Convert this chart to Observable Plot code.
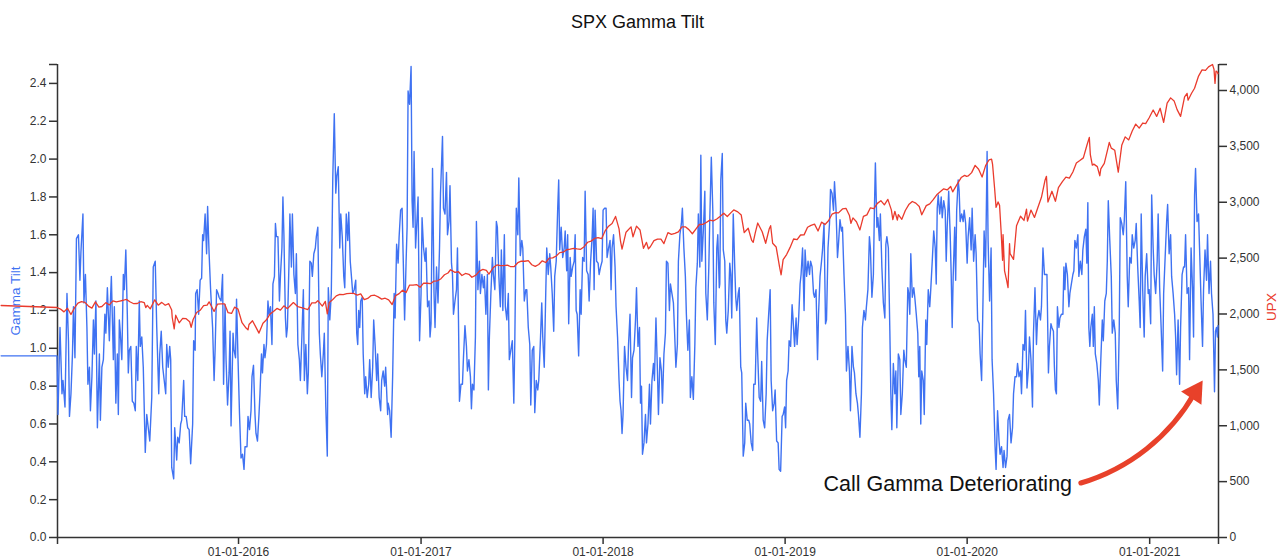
<!DOCTYPE html>
<html><head><meta charset="utf-8">
<script src="https://cdn.jsdelivr.net/npm/d3@7"></script>
<script src="https://cdn.jsdelivr.net/npm/@observablehq/plot@0.6"></script>
<style>
body{margin:0;background:#fff;font-family:"Liberation Sans",Arial,sans-serif;}
#title{height:44px;line-height:44px;margin-left:57px;width:1161px;text-align:center;font-size:18px;color:#111;}
#chart svg{overflow:visible;}
</style></head><body>
<div id="title"></div>
<div id="chart"></div>
<script>
const title = "SPX Gamma Tilt";
const leftLabel = "Gamma Tilt";
const rightLabel = "UPX";
const xStart = "2015-01-03", xEnd = "2021-05-19";
const yearTicks = ["2016-01-01","2017-01-01","2018-01-01","2019-01-01","2020-01-01","2021-01-01"];
const tiltTicks = [0,0.2,0.4,0.6,0.8,1.0,1.2,1.4,1.6,1.8,2.0,2.2,2.4];
const tiltMax = 2.5;
const spxTicks = [0,500,1000,1500,2000,2500,3000,3500,4000];
const spxMax = 4232.6;
const tiltBase = "2015-01-01"; // day offsets below count from this date
const tilt = [[-111,0.96],[1,0.96],[3,0.65],[7,1.11],[11,0.76],[13,0.83],[17,0.69],[21,1.29],[24,1.04],[26,0.64],[29,0.76],[32,0.97],[34,1.22],[37,0.95],[40,1.58],[44,1.60],[47,1.36],[49,1.51],[53,1.71],[55,1.24],[58,1.39],[61,1.11],[63,0.81],[66,0.90],[68,0.67],[71,0.85],[74,1.15],[76,0.97],[79,1.25],[82,0.58],[86,0.97],[88,0.62],[91,0.90],[94,0.94],[97,1.18],[99,1.08],[102,1.32],[106,1.04],[108,1.24],[110,1.38],[114,0.94],[116,1.22],[119,0.71],[122,0.97],[124,0.65],[126,1.15],[128,1.08],[131,0.94],[134,1.39],[136,1.31],[139,1.52],[142,1.18],[144,0.87],[146,0.99],[149,1.01],[152,0.72],[155,0.71],[158,0.67],[160,1.01],[163,0.83],[166,1.25],[168,1.01],[171,1.06],[174,0.90],[178,0.45],[181,0.65],[184,0.58],[187,0.51],[191,0.74],[194,1.43],[198,1.46],[201,1.11],[205,0.76],[207,0.97],[210,1.09],[213,0.90],[216,0.83],[219,0.76],[221,1.02],[224,0.90],[227,1.01],[229,0.94],[231,0.37],[235,0.31],[237,0.58],[241,0.41],[243,0.53],[246,0.50],[249,0.60],[251,0.62],[255,0.83],[257,0.64],[260,0.64],[263,0.58],[266,0.57],[269,0.39],[273,0.60],[275,1.04],[278,0.99],[279,1.29],[282,1.31],[285,1.18],[288,1.36],[291,1.37],[293,1.60],[295,1.57],[298,1.71],[301,1.50],[303,1.75],[306,1.50],[309,1.31],[313,1.11],[316,0.83],[318,0.99],[321,1.31],[324,1.29],[326,1.27],[330,1.25],
[333,1.39],[335,0.81],[338,1.23],[340,0.94],[343,0.70],[346,0.87],[348,1.09],[350,0.59],[354,1.08],[356,0.99],[359,0.95],[361,1.26],[364,0.94],[367,0.65],[370,0.42],[373,0.44],[376,0.36],[378,0.48],[382,0.48],[384,0.64],[387,0.57],[390,0.67],[392,0.85],[395,0.91],[398,0.65],[400,0.55],[403,0.51],[406,0.65],[408,0.76],[411,0.97],[413,0.87],[416,1.02],[418,0.95],[421,1.02],[424,1.25],[426,1.18],[429,1.22],[432,1.02],[434,1.34],[437,1.38],[439,1.66],[441,1.59],[444,1.59],[447,1.25],[449,1.38],[452,1.53],[454,1.80],[456,1.60],[459,1.16],[461,1.06],[463,1.11],[466,1.43],[468,1.71],[471,1.43],[473,1.71],[476,1.39],[479,1.29],[481,1.50],[484,1.02],[487,0.94],[489,0.83],[492,1.06],[495,1.31],[497,0.83],[500,1.02],[503,0.76],[505,0.87],[508,1.46],[511,1.45],[513,1.38],[516,1.50],[519,1.53],[521,1.59],[524,1.64],[527,1.08],[529,0.97],[532,0.85],[535,0.97],[537,1.08],[540,0.69],[543,0.43],[545,1.32],[548,1.15],[551,1.29],[554,1.90],[557,2.24],[560,1.82],[562,1.91],[565,1.96],[568,1.53],[570,1.71],[573,1.59],[576,1.38],[578,1.32],[581,1.71],[584,1.57],[586,1.72],[589,1.46],[592,1.36],[594,1.29],[597,1.31],[600,1.36],[602,1.08],[604,1.02],[606,1.20],[608,1.11],[610,1.25],[613,1.27],[615,0.97],[618,0.76],[620,0.85],[623,0.74],[626,0.81],[628,0.94],[631,0.74],[634,0.90],[636,1.15],[639,1.01],[642,0.83],[644,0.97],[647,0.74],[650,0.67],[652,0.83],[655,0.88],[658,0.80],[660,0.90],[664,0.65],
[665,0.71],[668,0.67],[671,0.53],[674,0.85],[677,1.29],[679,1.16],[682,1.55],[685,1.45],[687,1.59],[690,1.73],[693,1.74],[695,1.50],[698,1.15],[701,1.46],[703,1.64],[705,2.36],[708,2.29],[711,2.49],[713,1.78],[715,1.64],[717,2.04],[720,1.53],[723,1.69],[725,1.80],[728,1.04],[731,1.29],[733,1.69],[736,1.53],[739,1.46],[741,1.53],[744,1.22],[747,1.25],[749,1.06],[751,1.13],[754,1.95],[757,1.29],[759,1.11],[762,1.43],[765,1.24],[768,1.53],[770,1.82],[774,2.12],[776,1.74],[779,1.71],[782,1.93],[784,1.60],[787,1.67],[789,1.86],[792,1.45],[794,1.39],[796,1.18],[799,1.25],[802,1.31],[804,1.53],[806,1.16],[808,0.72],[811,0.81],[814,0.81],[816,0.95],[819,1.12],[822,1.01],[824,0.88],[827,0.94],[830,0.85],[832,0.68],[834,0.81],[837,0.78],[840,1.06],[842,1.67],[845,1.31],[848,1.46],[850,1.29],[853,1.39],[856,1.32],[858,1.38],[861,1.18],[864,1.39],[866,0.78],[868,1.06],[871,1.29],[874,1.48],[876,1.39],[879,1.31],[882,1.67],[884,1.64],[887,1.38],[890,1.22],[892,1.52],[895,1.20],[898,1.60],[900,1.22],[903,1.15],[906,1.29],[908,0.94],[911,0.99],[914,1.04],[917,0.71],[919,1.04],[922,1.74],[925,1.60],[927,1.90],[930,1.49],[933,1.57],[935,1.53],[938,1.25],[941,1.31],[943,1.31],[946,1.11],[949,1.02],[951,0.70],[954,0.99],[957,1.01],[959,0.66],[962,0.83],[965,0.78],[967,0.83],[970,1.02],[973,1.24],[975,1.06],[978,0.90],[981,1.29],[983,1.53],[986,1.39],[989,1.50],[991,1.43],[994,1.29],[997,1.09],
[999,1.38],[1002,1.46],[1005,1.74],[1007,1.89],[1009,1.52],[1012,1.64],[1015,1.48],[1018,1.53],[1020,1.62],[1023,1.41],[1025,1.60],[1027,1.13],[1030,1.48],[1032,1.38],[1035,1.43],[1038,1.46],[1040,1.60],[1042,1.20],[1044,1.18],[1047,0.96],[1050,1.31],[1052,1.18],[1055,1.48],[1058,1.46],[1060,1.83],[1063,1.41],[1066,1.39],[1068,1.25],[1071,1.46],[1074,1.59],[1076,1.74],[1078,1.31],[1080,1.73],[1083,1.46],[1086,1.45],[1088,1.39],[1091,1.43],[1094,1.46],[1096,1.73],[1099,1.74],[1102,1.74],[1104,1.48],[1107,1.53],[1110,1.57],[1112,1.31],[1114,1.53],[1117,1.60],[1120,1.43],[1122,1.22],[1125,1.06],[1128,0.83],[1130,0.72],[1132,0.67],[1134,0.55],[1136,0.65],[1139,1.01],[1142,0.90],[1145,0.83],[1147,1.02],[1150,1.18],[1153,0.74],[1155,0.95],[1158,0.99],[1161,1.15],[1163,1.32],[1166,1.01],[1169,1.11],[1171,0.71],[1173,0.80],[1175,0.44],[1178,0.50],[1181,0.65],[1183,0.50],[1186,0.60],[1189,0.81],[1191,0.60],[1194,0.83],[1197,0.92],[1199,0.83],[1202,1.16],[1205,0.88],[1207,0.65],[1210,0.95],[1213,0.88],[1215,0.71],[1218,0.97],[1221,1.08],[1223,1.46],[1226,1.45],[1229,1.20],[1231,1.34],[1234,1.29],[1237,1.24],[1239,1.11],[1242,0.90],[1245,1.02],[1247,1.46],[1250,1.60],[1253,1.66],[1255,1.74],[1258,1.53],[1261,1.38],[1263,1.18],[1266,0.99],[1269,1.15],[1271,0.74],[1274,0.85],[1277,0.73],[1280,1.02],[1282,1.32],[1285,1.45],[1287,1.71],[1290,1.43],[1292,2.02],[1294,1.46],[1297,1.62],[1300,1.83],[1302,1.29],[1305,1.15],[1308,1.43],[1310,1.69],[1313,2.01],[1316,1.73],[1318,1.24],[1321,1.02],[1324,1.53],[1326,1.60],[1329,1.32],
[1330,1.34],[1332,1.89],[1335,2.03],[1337,1.52],[1340,1.46],[1342,1.15],[1344,1.08],[1347,1.20],[1350,1.45],[1352,1.39],[1354,1.16],[1357,1.71],[1360,1.43],[1362,1.27],[1364,1.20],[1367,1.29],[1369,1.32],[1372,0.90],[1374,0.87],[1377,0.43],[1380,0.50],[1382,0.71],[1385,0.62],[1388,0.62],[1390,0.60],[1393,0.50],[1396,0.46],[1398,0.81],[1401,0.81],[1404,1.16],[1406,0.97],[1409,0.74],[1412,0.72],[1414,0.93],[1417,0.62],[1420,0.58],[1423,0.76],[1425,1.04],[1428,1.18],[1431,1.31],[1433,0.83],[1436,0.67],[1439,0.71],[1441,0.78],[1444,0.51],[1447,0.50],[1449,0.36],[1452,0.35],[1455,0.64],[1457,0.65],[1460,0.69],[1462,0.58],[1464,0.83],[1467,0.88],[1469,1.04],[1472,1.01],[1475,1.23],[1477,1.15],[1480,1.01],[1483,1.16],[1485,1.02],[1488,1.15],[1491,1.34],[1493,1.39],[1496,1.53],[1499,1.20],[1501,1.52],[1504,1.38],[1507,1.46],[1510,1.39],[1512,1.46],[1515,1.43],[1518,1.29],[1520,1.27],[1523,1.31],[1526,0.94],[1528,1.18],[1531,1.38],[1534,1.46],[1536,1.52],[1539,1.66],[1542,1.13],[1544,1.15],[1547,1.53],[1550,1.66],[1552,1.84],[1555,1.82],[1558,1.73],[1560,1.88],[1563,1.74],[1566,1.48],[1568,1.55],[1571,1.68],[1574,1.62],[1576,1.64],[1579,1.39],[1582,1.18],[1584,0.88],[1587,1.01],[1590,0.88],[1592,0.67],[1595,1.01],[1598,0.90],[1600,0.87],[1603,0.76],[1606,0.71],[1608,0.65],[1611,0.53],[1614,0.76],[1616,1.11],[1619,1.20],[1622,1.15],[1624,1.22],[1627,1.31],[1630,1.59],[1632,1.53],[1635,1.27],[1638,1.39],[1640,1.73],[1642,1.98],[1645,1.64],[1647,1.69],[1650,1.57],[1652,1.71],[1655,1.43],[1658,1.24],[1661,1.16],[1663,1.55],
[1665,1.59],[1668,1.53],[1671,1.09],[1673,0.76],[1675,0.57],[1678,0.92],[1681,0.76],[1683,0.88],[1685,0.58],[1688,0.97],[1691,0.94],[1693,0.65],[1696,0.76],[1699,0.99],[1701,0.94],[1704,0.90],[1707,1.32],[1709,1.29],[1711,1.18],[1713,1.50],[1716,1.27],[1719,1.32],[1721,1.27],[1724,1.18],[1727,1.08],[1729,0.85],[1731,1.01],[1733,0.60],[1735,0.88],[1738,0.83],[1740,0.65],[1743,1.15],[1745,1.02],[1748,1.31],[1751,1.22],[1753,1.31],[1756,1.46],[1759,1.62],[1762,1.53],[1764,1.34],[1766,1.74],[1768,1.81],[1771,1.71],[1774,1.80],[1776,1.69],[1779,1.78],[1782,1.73],[1784,1.46],[1786,1.64],[1789,1.83],[1792,1.60],[1794,1.39],[1796,1.11],[1798,1.38],[1801,1.64],[1803,1.36],[1805,1.73],[1808,1.89],[1810,1.83],[1812,1.67],[1815,1.71],[1818,1.67],[1820,1.73],[1823,1.66],[1826,1.45],[1828,1.59],[1831,1.69],[1834,1.52],[1836,1.74],[1839,1.46],[1842,1.60],[1844,1.50],[1847,1.15],[1850,1.13],[1852,0.97],[1855,0.83],[1858,1.29],[1860,1.62],[1863,1.43],[1866,2.04],[1868,1.57],[1871,1.25],[1874,1.53],[1876,0.94],[1879,0.76],[1882,0.48],[1884,0.36],[1887,0.67],[1890,0.51],[1892,0.44],[1895,0.48],[1898,0.37],[1900,0.46],[1903,0.37],[1906,0.43],[1908,0.62],[1911,0.65],[1914,0.50],[1917,0.58],[1919,0.76],[1922,0.85],[1925,0.85],[1927,0.92],[1930,0.85],[1933,0.88],[1935,0.76],[1938,1.02],[1941,0.99],[1943,1.20],[1946,0.79],[1949,0.90],[1951,1.06],[1954,0.94],[1957,0.69],[1959,1.08],[1962,1.32],[1965,1.02],[1967,1.15],[1970,1.20],[1973,1.15],[1975,1.22],[1978,1.53],[1981,1.39],[1983,1.39],[1986,1.39],[1989,0.87],[1991,1.01],[1994,1.13],
[1996,1.11],[1999,1.09],[2001,0.90],[2003,0.78],[2005,0.76],[2007,1.22],[2010,1.11],[2012,1.16],[2015,1.18],[2018,1.18],[2020,1.43],[2022,1.31],[2024,1.45],[2027,1.39],[2030,1.22],[2032,1.29],[2035,1.34],[2038,1.39],[2040,1.41],[2042,1.57],[2045,1.53],[2048,1.60],[2050,1.38],[2053,1.46],[2056,1.39],[2058,1.52],[2061,1.59],[2064,1.63],[2066,1.45],[2068,1.77],[2070,1.11],[2072,1.01],[2074,1.11],[2077,1.18],[2079,1.01],[2081,1.22],[2083,0.97],[2086,0.92],[2089,0.83],[2091,0.70],[2094,0.94],[2097,1.15],[2099,1.04],[2102,1.25],[2105,1.29],[2107,1.46],[2109,1.78],[2112,1.57],[2115,1.38],[2117,1.08],[2120,1.15],[2123,1.08],[2125,0.83],[2128,0.68],[2131,1.11],[2133,1.69],[2136,1.66],[2139,1.60],[2141,1.67],[2144,1.88],[2147,1.38],[2149,1.22],[2152,1.48],[2155,1.45],[2157,1.60],[2160,1.53],[2163,1.57],[2165,1.66],[2168,1.43],[2171,1.25],[2173,1.11],[2175,1.71],[2178,1.31],[2181,1.06],[2183,1.38],[2186,1.50],[2189,1.29],[2191,1.31],[2194,1.13],[2196,1.81],[2199,1.53],[2201,1.39],[2204,1.29],[2207,1.46],[2209,1.71],[2212,1.32],[2215,1.11],[2218,0.88],[2220,1.29],[2223,1.48],[2226,1.67],[2228,1.76],[2231,1.50],[2234,1.60],[2236,1.38],[2239,1.29],[2242,1.18],[2244,1.06],[2246,0.86],[2249,1.15],[2252,0.81],[2254,1.11],[2257,1.39],[2260,1.43],[2262,1.43],[2264,1.60],[2267,1.29],[2270,1.32],[2272,0.94],[2275,1.53],[2278,1.31],[2280,1.06],[2282,1.81],[2284,1.95],[2287,1.67],[2290,1.71],[2292,1.53],[2295,1.25],[2298,1.01],[2300,1.31],[2303,1.52],[2306,1.36],[2308,1.60],[2311,1.29],[2314,1.46],[2316,1.29],[2319,1.18],[2322,0.77],[2324,1.09],[2326,1.11],[2328,1.06],[2329,1.12]];
const spx = [["2014-09-12",2076],["2015-01-02",2058],["2015-01-09",2044],["2015-01-16",2019],["2015-01-23",2051],["2015-01-30",1995],["2015-02-06",2055],["2015-02-13",2097],["2015-02-20",2110],["2015-02-27",2104],["2015-03-06",2071],["2015-03-13",2053],["2015-03-20",2108],["2015-03-27",2061],["2015-04-02",2067],["2015-04-10",2102],["2015-04-17",2081],["2015-04-24",2117],["2015-05-01",2108],["2015-05-08",2116],["2015-05-15",2123],["2015-05-21",2131],["2015-05-29",2107],["2015-06-05",2092],["2015-06-12",2094],["2015-06-19",2110],["2015-06-26",2101],["2015-06-29",2057],["2015-07-02",2077],["2015-07-08",2046],["2015-07-17",2127],["2015-07-24",2079],["2015-07-31",2104],["2015-08-07",2078],["2015-08-14",2092],["2015-08-20",2035],["2015-08-21",1971],["2015-08-24",1893],["2015-08-25",1867],["2015-08-28",1989],["2015-09-04",1921],["2015-09-11",1961],["2015-09-18",1958],["2015-09-25",1931],["2015-09-28",1881],["2015-10-02",1951],["2015-10-09",2014],["2015-10-16",2033],["2015-10-23",2075],["2015-10-30",2079],["2015-11-03",2109],["2015-11-13",2023],["2015-11-20",2089],["2015-11-27",2090],["2015-12-04",2091],["2015-12-11",2012],["2015-12-18",2005],["2015-12-24",2061],["2015-12-31",2044],
["2016-01-08",1922],["2016-01-15",1880],["2016-01-20",1859],["2016-01-22",1906],["2016-01-29",1940],["2016-02-05",1880],["2016-02-11",1829],["2016-02-19",1918],["2016-02-26",1948],["2016-03-04",1999],["2016-03-11",2022],["2016-03-18",2050],["2016-03-25",2035],["2016-04-01",2073],["2016-04-08",2048],["2016-04-15",2081],["2016-04-20",2102],["2016-04-29",2065],["2016-05-06",2057],["2016-05-13",2047],["2016-05-19",2040],["2016-05-27",2099],["2016-06-03",2099],["2016-06-08",2119],["2016-06-17",2071],["2016-06-23",2113],["2016-06-27",2001],["2016-07-01",2103],["2016-07-08",2130],["2016-07-15",2162],["2016-07-22",2175],["2016-07-29",2174],["2016-08-05",2183],["2016-08-12",2184],["2016-08-19",2184],["2016-08-26",2169],["2016-09-02",2180],["2016-09-09",2128],["2016-09-16",2139],["2016-09-23",2165],["2016-09-30",2168],["2016-10-07",2153],["2016-10-14",2133],["2016-10-21",2141],["2016-10-28",2126],["2016-11-04",2085],["2016-11-11",2164],["2016-11-18",2182],["2016-11-25",2213],["2016-12-02",2192],["2016-12-09",2259],["2016-12-16",2258],["2016-12-23",2263],["2016-12-30",2239],
["2017-01-06",2277],["2017-01-13",2275],["2017-01-20",2271],["2017-01-27",2295],["2017-02-03",2297],["2017-02-10",2316],["2017-02-17",2351],["2017-02-24",2367],["2017-03-01",2396],["2017-03-10",2372],["2017-03-17",2378],["2017-03-24",2344],["2017-03-31",2363],["2017-04-07",2355],["2017-04-13",2329],["2017-04-21",2348],["2017-04-28",2384],["2017-05-05",2399],["2017-05-12",2391],["2017-05-17",2357],["2017-05-26",2416],["2017-06-02",2439],["2017-06-09",2432],["2017-06-16",2433],["2017-06-23",2438],["2017-06-30",2423],["2017-07-07",2425],["2017-07-14",2459],["2017-07-21",2473],["2017-07-28",2472],["2017-08-04",2477],["2017-08-11",2441],["2017-08-18",2426],["2017-08-25",2443],["2017-09-01",2476],["2017-09-08",2461],["2017-09-15",2500],["2017-09-22",2502],["2017-09-29",2519],["2017-10-06",2549],["2017-10-13",2553],["2017-10-20",2575],["2017-10-27",2581],["2017-11-03",2588],["2017-11-10",2582],["2017-11-17",2579],["2017-11-24",2602],["2017-12-01",2642],["2017-12-08",2652],["2017-12-15",2676],["2017-12-22",2683],["2017-12-29",2674],
["2018-01-05",2743],["2018-01-12",2786],["2018-01-19",2810],["2018-01-26",2873],["2018-02-02",2762],["2018-02-05",2649],["2018-02-08",2581],["2018-02-16",2732],["2018-02-26",2780],["2018-03-02",2691],["2018-03-09",2786],["2018-03-16",2752],["2018-03-23",2588],["2018-03-29",2641],["2018-04-02",2582],["2018-04-06",2604],["2018-04-13",2656],["2018-04-20",2670],["2018-04-27",2670],["2018-05-03",2630],["2018-05-11",2728],["2018-05-18",2712],["2018-05-25",2721],["2018-06-01",2735],["2018-06-08",2779],["2018-06-15",2780],["2018-06-22",2755],["2018-06-29",2718],["2018-07-06",2760],["2018-07-13",2801],["2018-07-20",2802],["2018-07-27",2819],["2018-08-03",2840],["2018-08-10",2833],["2018-08-17",2850],["2018-08-24",2875],["2018-08-31",2902],["2018-09-07",2872],["2018-09-14",2905],["2018-09-20",2931],["2018-09-28",2914],["2018-10-05",2885],["2018-10-11",2729],["2018-10-19",2767],["2018-10-26",2658],["2018-10-29",2641],["2018-11-02",2723],["2018-11-07",2814],["2018-11-16",2736],["2018-11-23",2633],["2018-11-30",2760],["2018-12-03",2790],["2018-12-07",2633],["2018-12-14",2600],["2018-12-21",2417],["2018-12-24",2351],["2018-12-28",2486],
["2019-01-04",2532],["2019-01-11",2596],["2019-01-18",2671],["2019-01-25",2665],["2019-02-01",2707],["2019-02-08",2708],["2019-02-15",2776],["2019-02-22",2793],["2019-03-01",2804],["2019-03-08",2743],["2019-03-15",2822],["2019-03-22",2801],["2019-03-29",2834],["2019-04-05",2893],["2019-04-12",2907],["2019-04-18",2905],["2019-04-26",2940],["2019-05-03",2946],["2019-05-10",2881],["2019-05-13",2812],["2019-05-17",2860],["2019-05-24",2826],["2019-05-31",2752],["2019-06-07",2873],["2019-06-14",2887],["2019-06-21",2950],["2019-06-28",2942],["2019-07-05",2990],["2019-07-12",3014],["2019-07-19",2977],["2019-07-26",3026],["2019-08-02",2932],["2019-08-05",2845],["2019-08-09",2919],["2019-08-14",2840],["2019-08-16",2889],["2019-08-23",2847],["2019-08-30",2926],["2019-09-06",2979],["2019-09-13",3007],["2019-09-20",2992],["2019-09-27",2962],["2019-10-02",2888],["2019-10-11",2970],["2019-10-18",2986],["2019-10-25",3023],["2019-11-01",3067],["2019-11-08",3093],["2019-11-15",3120],["2019-11-22",3110],["2019-11-29",3141],["2019-12-03",3093],["2019-12-13",3169],["2019-12-20",3221],["2019-12-27",3240],["2019-12-31",3231],
["2020-01-03",3235],["2020-01-10",3265],["2020-01-17",3330],["2020-01-24",3295],["2020-01-31",3226],["2020-02-07",3328],["2020-02-14",3380],["2020-02-19",3386],["2020-02-21",3338],["2020-02-25",3128],["2020-02-28",2954],["2020-03-03",3003],["2020-03-06",2972],["2020-03-09",2747],["2020-03-12",2481],["2020-03-13",2711],["2020-03-16",2386],["2020-03-20",2305],["2020-03-23",2237],["2020-03-26",2630],["2020-03-27",2541],["2020-04-03",2489],["2020-04-09",2790],["2020-04-17",2875],["2020-04-24",2837],["2020-04-29",2939],["2020-05-01",2831],["2020-05-08",2930],["2020-05-15",2864],["2020-05-22",2955],["2020-05-29",3044],["2020-06-05",3194],["2020-06-08",3232],["2020-06-11",3002],["2020-06-19",3098],["2020-06-26",3009],["2020-07-02",3130],["2020-07-10",3185],["2020-07-17",3225],["2020-07-24",3216],["2020-07-31",3271],["2020-08-07",3351],["2020-08-14",3373],["2020-08-21",3397],["2020-08-28",3508],["2020-09-02",3580],["2020-09-04",3427],["2020-09-08",3332],["2020-09-11",3341],["2020-09-18",3319],["2020-09-23",3237],["2020-09-25",3298],["2020-10-02",3348],["2020-10-09",3477],["2020-10-12",3535],["2020-10-16",3484],["2020-10-23",3465],["2020-10-30",3270],["2020-11-06",3509],["2020-11-13",3585],["2020-11-20",3558],["2020-11-27",3638],["2020-12-04",3699],["2020-12-11",3663],["2020-12-18",3709],["2020-12-24",3703],["2020-12-31",3756],
["2021-01-08",3825],["2021-01-15",3768],["2021-01-22",3841],["2021-01-27",3750],["2021-01-29",3714],["2021-02-05",3887],["2021-02-12",3934],["2021-02-19",3907],["2021-02-25",3829],["2021-03-04",3768],["2021-03-12",3943],["2021-03-17",3974],["2021-03-19",3913],["2021-03-26",3975],["2021-04-01",4020],["2021-04-09",4129],["2021-04-16",4185],["2021-04-23",4180],["2021-04-29",4211],["2021-05-07",4232.6],["2021-05-10",4189],["2021-05-12",4063],["2021-05-14",4174],["2021-05-17",4163],["2021-05-18",4150]];
const noteText = "Call Gamma Deteriorating";
const noteDate = "2019-03-19", noteValue = 0.247;
const arrowFromDate = "2020-08-16", arrowFromValue = 0.288;
const arrowToDate = "2021-04-02", arrowToValue = 0.768;

const blue = "#3f72f2", red = "#ea3b2d", arrowColor = "#e8412a", axisColor = "#333";
const parse = d3.utcParse("%Y-%m-%d");
const base = parse(tiltBase);
const k = tiltMax / spxMax;
const tiltData = tilt.map(([d, v]) => ({date: d3.utcDay.offset(base, d), v}));
const spxData = spx.map(([s, v]) => ({date: parse(s), v}));
const x0 = parse(xStart), x1 = parse(xEnd);
const years = yearTicks.map(parse);
const yearSet = new Set(years.map(Number));
const fmtDate = d3.utcFormat("%m-%d-%Y");
const fmtComma = d3.format(",");
const arrowDatum = {x1: parse(arrowFromDate), y1: arrowFromValue, x2: parse(arrowToDate), y2: arrowToValue};

document.getElementById("title").textContent = title;

const chart = Plot.plot({
  width: 1280, height: 516,
  marginLeft: 57, marginRight: 62, marginTop: 20, marginBottom: 23,
  style: {fontFamily: "'Liberation Sans', Arial, sans-serif", fontSize: "12px", color: axisColor, background: "#fff"},
  x: {type: "utc", domain: [x0, x1]},
  y: {domain: [0, tiltMax]},
  marks: [
    Plot.axisX({ticks: [x0, ...years, x1], tickFormat: d => yearSet.has(+d) ? fmtDate(d) : "", tickSize: 7, tickPadding: 3, stroke: axisColor, strokeWidth: 1.5, label: null}),
    Plot.axisY({anchor: "left", ticks: [...tiltTicks, tiltMax], tickFormat: v => v === tiltMax ? "" : d3.format(".1f")(v), tickSize: 8, tickPadding: 3, stroke: axisColor, strokeWidth: 1.5, label: null}),
    Plot.axisY({anchor: "right", ticks: [...spxTicks, spxMax].map(v => v * k), tickFormat: v => Math.abs(v - tiltMax) < 1e-9 ? "" : fmtComma(Math.round(v / k)), tickSize: 8, tickPadding: 3, stroke: axisColor, strokeWidth: 1.5, label: null}),
    Plot.ruleY([0], {stroke: axisColor, strokeWidth: 1.5}),
    Plot.ruleX([x0, x1], {stroke: axisColor, strokeWidth: 1.5}),
    Plot.line(tiltData, {x: "date", y: "v", stroke: blue, strokeWidth: 1.4}),
    Plot.line(spxData, {x: "date", y: d => d.v * k, stroke: red, strokeWidth: 1.3}),
    Plot.text([leftLabel], {frameAnchor: "left", dx: -38, rotate: -90, textAnchor: "middle", lineAnchor: "bottom", fill: blue, fontSize: 13.5}),
    Plot.text([rightLabel], {frameAnchor: "right", dx: 57, dy: 6, rotate: -90, textAnchor: "middle", lineAnchor: "bottom", fill: red, fontSize: 13.5}),
    Plot.text([noteText], {x: () => parse(noteDate), y: () => noteValue, text: d => d, textAnchor: "start", lineAnchor: "bottom", fontSize: 21.5, fill: "#111"}),
    Plot.arrow([arrowDatum], {x1: "x1", y1: "y1", x2: "x2", y2: "y2", bend: -22, headLength: 0, stroke: arrowColor, strokeWidth: 5}),
    Plot.dot([arrowDatum], {x: "x2", y: "y2", symbol: "triangle", r: 9, rotate: 33, fill: arrowColor, stroke: "none"})
  ]
});
document.getElementById("chart").appendChild(chart);
</script>
</body></html>
